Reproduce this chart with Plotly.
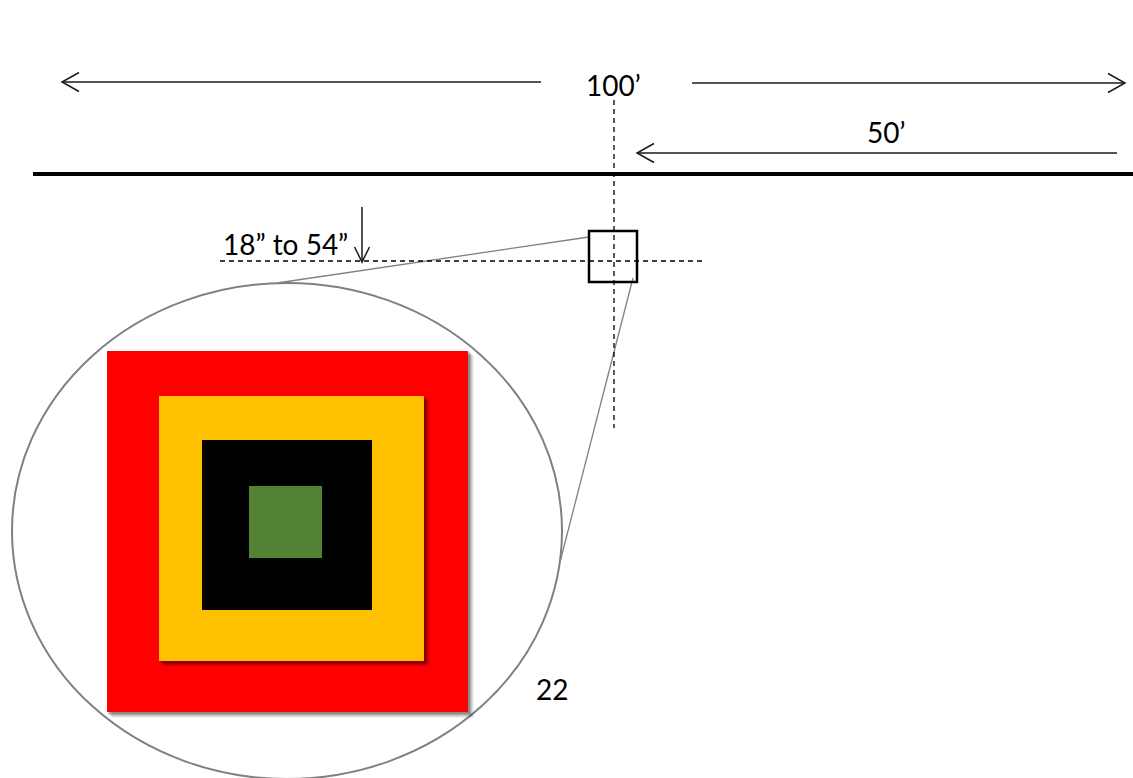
import plotly.graph_objects as go

W, H = 1133, 778

# Target squares (outer to inner): x0, y0, x1, y1 in page pixels
target_names = ["red", "yellow", "black", "green"]
target_x0 = [107, 159, 202, 249]
target_y0 = [351, 396, 440, 486]
target_x1 = [468, 424, 372, 322]
target_y1 = [712, 661, 610, 558]
target_colors = ["#FF0000", "#FFC000", "#000000", "#548235"]
target_shadow = [True, True, False, False]

# Zoom ellipse
ellipse_cx, ellipse_cy = 287, 531
ellipse_rx, ellipse_ry = 275, 248

# Small target box
box = [589, 231, 637, 282]

# Dimension arrows: (x_start, y_start, x_tip, y_tip)
arrows = [
    (541, 82, 62, 82),      # 100' left
    (692, 83, 1125, 83),    # 100' right
    (1117, 153, 637, 153),  # 50'
    (362, 207, 362, 262),   # drop
]
arrow_head_len = [17, 17, 17, 15]
arrow_head_half = [9.5, 9.5, 9.5, 7.5]

# Labels
labels = ["100\u2019", "50\u2019", "18\u201d to 54\u201d", "22"]
label_x = [613, 886, 285, 552]
label_y = [85, 132, 244, 689]

# Ground line
ground = (33, 174, 1133, 174)

# Dashed crosshair
vdash = (614, 100, 614, 428)
hdash = (220, 261, 706, 261)

# Leader lines from box to ellipse
leaders = [(589, 237, 277, 283), (633, 278, 560, 562)]

shapes = []

# ellipse
shapes.append(dict(type="circle", xref="x", yref="y",
                   x0=ellipse_cx - ellipse_rx, x1=ellipse_cx + ellipse_rx,
                   y0=ellipse_cy - ellipse_ry, y1=ellipse_cy + ellipse_ry,
                   line=dict(color="#808080", width=2), fillcolor="rgba(0,0,0,0)"))

# squares with soft shadows
for i in range(len(target_names)):
    if target_shadow[i]:
        for off, a in [(6, 0.06), (5, 0.08), (4, 0.10), (3, 0.14), (2, 0.18)]:
            shapes.append(dict(type="rect", xref="x", yref="y",
                               x0=target_x0[i] + off - 1, x1=target_x1[i] + off,
                               y0=target_y0[i] + off - 1, y1=target_y1[i] + off,
                               line=dict(width=0), fillcolor=f"rgba(0,0,0,{a})"))
    shapes.append(dict(type="rect", xref="x", yref="y",
                       x0=target_x0[i], x1=target_x1[i],
                       y0=target_y0[i], y1=target_y1[i],
                       line=dict(width=0), fillcolor=target_colors[i]))

# leader lines
for (xa, ya, xb, yb) in leaders:
    shapes.append(dict(type="line", xref="x", yref="y", x0=xa, y0=ya, x1=xb, y1=yb,
                       line=dict(color="#808080", width=1.3)))

# dashed lines
for (xa, ya, xb, yb) in [vdash, hdash]:
    shapes.append(dict(type="line", xref="x", yref="y", x0=xa, y0=ya, x1=xb, y1=yb,
                       line=dict(color="black", width=1.3, dash="5px,4px")))

# small box
shapes.append(dict(type="rect", xref="x", yref="y",
                   x0=box[0], y0=box[1], x1=box[2], y1=box[3],
                   line=dict(color="black", width=2.5), fillcolor="rgba(0,0,0,0)"))

# ground line
shapes.append(dict(type="line", xref="x", yref="y", x0=ground[0], y0=ground[1],
                   x1=ground[2], y1=ground[3], line=dict(color="black", width=4)))

# arrows with open chevron heads
for i, (xs, ys, xt, yt) in enumerate(arrows):
    shapes.append(dict(type="line", xref="x", yref="y", x0=xs, y0=ys, x1=xt, y1=yt,
                       line=dict(color="#1a1a1a", width=1.5)))
    dx, dy = xt - xs, yt - ys
    L = (dx * dx + dy * dy) ** 0.5
    ux, uy = dx / L, dy / L
    px, py = -uy, ux
    hl, hw = arrow_head_len[i], arrow_head_half[i]
    bx, by = xt - ux * hl, yt - uy * hl
    p1 = (bx + px * hw, by + py * hw)
    p2 = (bx - px * hw, by - py * hw)
    path = f"M{p1[0]},{p1[1]} L{xt},{yt} L{p2[0]},{p2[1]}"
    shapes.append(dict(type="path", xref="x", yref="y", path=path,
                       line=dict(color="#1a1a1a", width=1.5)))

annotations = []
for t, x, y in zip(labels, label_x, label_y):
    annotations.append(dict(text=t, x=x, y=y, xref="x", yref="y", showarrow=False,
                            xanchor="center", yanchor="middle",
                            font=dict(family="Lato, Carlito, sans-serif", size=28, color="black")))

fig = go.Figure()
fig.add_trace(go.Scatter(x=[0, W], y=[0, H], mode="markers",
                         marker=dict(opacity=0), hoverinfo="skip", showlegend=False))
fig.update_layout(
    width=W, height=H, margin=dict(l=0, r=0, t=0, b=0),
    paper_bgcolor="white", plot_bgcolor="white",
    xaxis=dict(range=[0, W], visible=False, fixedrange=True),
    yaxis=dict(range=[H, 0], visible=False, fixedrange=True),
    shapes=shapes, annotations=annotations, showlegend=False,
)
fig.write_html("out.html", config={"displayModeBar": False},
               post_script="document.body.style.margin='0';document.body.style.overflow='hidden';")
